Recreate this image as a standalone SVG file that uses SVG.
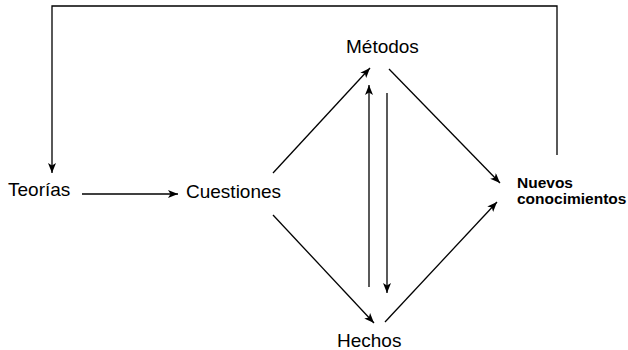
<svg xmlns="http://www.w3.org/2000/svg" width="628" height="350" viewBox="0 0 628 350">
<defs>
<marker id="ah" viewBox="0 0 10 8" refX="10" refY="4" markerWidth="10" markerHeight="8" markerUnits="userSpaceOnUse" orient="auto">
<path d="M0,0 L10,4 L0,8 L2.5,4 Z" fill="#000"/>
</marker>
<style>
.t{font-family:"Liberation Sans",Arial,sans-serif;font-size:19px;fill:#000}
.b{font-family:"Liberation Sans",Arial,sans-serif;font-size:15.5px;font-weight:bold;fill:#000}
.c{fill:none;stroke:#000;stroke-width:1.3}
</style>
</defs>
<rect width="628" height="350" fill="#fff"/>
<g id="connectors">
<path class="c" d="M557,155 V6 H52 V173" marker-end="url(#ah)"/>
<line class="c" x1="82" y1="194" x2="178" y2="194" marker-end="url(#ah)"/>
<line class="c" x1="273" y1="173" x2="370" y2="68" marker-end="url(#ah)"/>
<line class="c" x1="389" y1="69" x2="500" y2="183" marker-end="url(#ah)"/>
<line class="c" x1="273" y1="215" x2="374" y2="323" marker-end="url(#ah)"/>
<line class="c" x1="385" y1="322" x2="497" y2="202" marker-end="url(#ah)"/>
<line class="c" x1="369" y1="287" x2="369" y2="85" marker-end="url(#ah)"/>
<line class="c" x1="387" y1="93" x2="387" y2="293" marker-end="url(#ah)"/>
</g>
<g id="teorias"><text class="t" x="8" y="196">Teorías</text></g>
<g id="cuestiones"><text class="t" x="186" y="198">Cuestiones</text></g>
<g id="metodos"><text class="t" x="346" y="53">Métodos</text></g>
<g id="hechos"><text class="t" x="337" y="347">Hechos</text></g>
<g id="nuevos"><text class="b" x="517" y="188">Nuevos</text><text class="b" x="517" y="204">conocimientos</text></g>
</svg>
